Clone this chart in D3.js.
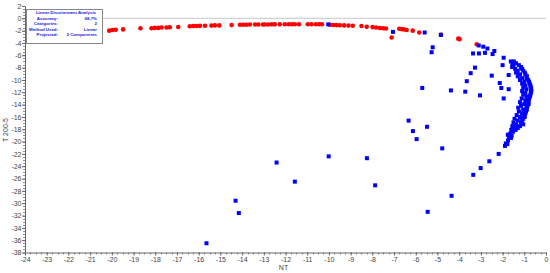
<!DOCTYPE html>
<html lang="en">
<head>
    <meta charset="UTF-8">
    <title>LDA scatter</title>
    <script src="https://d3js.org/d3.v7.min.js"></script>
    <style>
        body { margin: 0; background: #fff; }
        text { font-family: "Liberation Sans", Arial, sans-serif; }
    </style>
</head>
<body>
    <div id="chart"></div>
    <script>
        // category 1 (red circles), [NT, T 200-5]
        const redPoints = [
            [-20.12,-2.0],[-19.97,-1.9],[-19.82,-1.85],[-19.48,-1.8],[-18.68,-1.62],[-18.17,-1.6],
            [-18.02,-1.55],[-17.86,-1.55],[-17.71,-1.5],[-17.48,-1.5],[-17.33,-1.45],[-16.94,-1.4],
            [-16.41,-1.28],[-16.25,-1.25],[-16.10,-1.25],[-15.94,-1.22],[-15.71,-1.2],[-15.41,-1.18],
            [-15.25,-1.15],[-15.05,-1.15],[-14.48,-1.1],[-14.1,-1.05],[-13.95,-1.05],[-13.8,-1.05],
            [-13.64,-1.0],[-13.4,-1.0],[-13.25,-1.0],[-13.04,-1.0],[-12.95,-1.0],[-12.8,-1.0],
            [-12.63,-0.98],[-12.49,-0.98],[-12.26,-0.98],[-12.03,-0.97],[-11.85,-0.97],[-11.7,-0.97],
            [-11.57,-0.97],[-11.38,-0.97],[-10.97,-0.97],[-10.8,-0.97],[-10.6,-0.97],[-10.45,-0.97],
            [-10.32,-0.97],[-9.95,-1.05],[-9.8,-1.08],[-9.65,-1.1],[-9.5,-1.12],[-9.3,-1.15],
            [-9.1,-1.18],[-8.9,-1.2],[-8.5,-1.25],[-8.26,-1.36],[-7.99,-1.42],[-7.83,-1.5],
            [-7.65,-1.58],[-7.5,-1.62],[-7.37,-1.65],[-7.11,-3.1],[-6.76,-1.7],[-6.65,-1.75],
            [-6.55,-1.8],[-6.42,-1.9],[-6.14,-2.0],[-5.84,-2.3],[-4.84,-2.65],[-4.04,-3.3],
            [-3.98,-3.38],[-3.19,-4.2]
        ];

        // category 2 (blue squares)
        const bluePoints = [
            [-10.03,-0.98],[-7.05,-2.2],[-5.59,-2.3],[-4.84,-2.7],[-5.22,-4.7],[-5.27,-5.5],
            [-3.10,-4.4],[-2.89,-4.6],[-2.70,-4.9],[-3.36,-5.7],[-3.09,-5.7],[-2.81,-5.6],
            [-2.38,-5.3],[-2.46,-5.8],[-1.95,-6.4],[-2.0,-7.6],[-3.27,-8.0],[-3.47,-8.9],
            [-3.65,-10.2],[-2.50,-9.3],[-1.72,-9.2],[-2.13,-10.5],[-2.06,-11.3],[-1.72,-11.5],
            [-1.95,-13.0],[-3.04,-12.5],[-3.72,-11.9],[-4.38,-11.7],[-5.7,-11.3],
            [-12.41,-23.4],[-11.57,-26.5],[-10.01,-22.4],[-8.25,-22.7],[-7.87,-27.1],
            [-6.33,-16.6],[-6.13,-18.3],[-5.96,-19.6],[-5.48,-17.6],[-4.78,-21.1],[-4.35,-28.8],
            [-5.45,-31.4],[-3.35,-25.4],[-3.01,-24.3],[-2.61,-23.2],[-2.18,-22.0],[-1.89,-20.7],
            [-1.78,-20.4],[-1.76,-18.9],[-1.61,-19.4],[-14.30,-29.6],[-14.15,-31.6],[-15.64,-36.5],
            // dense crescent on the right
            [-1.62,-7.0],[-1.48,-7.0],[-1.55,-7.3],[-1.38,-7.3],[-1.5,-7.6],[-1.25,-7.6],
            [-1.56,-7.9],[-1.15,-7.9],[-1.42,-8.2],[-1.1,-8.2],[-1.3,-8.5],[-1.05,-8.5],
            [-1.38,-8.8],[-0.98,-8.8],[-1.2,-9.1],[-0.95,-9.1],[-1.3,-9.4],[-0.88,-9.4],
            [-1.1,-9.7],[-0.9,-9.7],[-1.2,-10.0],[-0.82,-10.0],[-1.0,-10.3],[-0.78,-10.3],
            [-1.1,-10.6],[-0.75,-10.6],[-0.95,-10.9],[-0.72,-10.9],[-1.05,-11.2],[-0.7,-11.2],
            [-0.9,-11.5],[-0.68,-11.5],[-1.1,-11.8],[-0.68,-11.8],[-0.95,-12.1],[-0.7,-12.1],
            [-1.05,-12.4],[-0.72,-12.4],[-0.9,-12.7],[-0.74,-12.7],[-1.12,-13.0],[-0.78,-13.0],
            [-0.95,-13.3],[-0.8,-13.3],[-1.2,-13.6],[-0.82,-13.6],[-1.0,-13.9],[-0.8,-13.9],
            [-1.15,-14.2],[-0.85,-14.2],[-1.28,-14.5],[-0.9,-14.5],[-1.05,-14.8],[-0.88,-14.8],
            [-1.25,-15.1],[-0.92,-15.1],[-1.1,-15.4],[-0.95,-15.4],[-1.35,-15.7],[-1.0,-15.7],
            [-1.2,-16.0],[-0.98,-16.0],[-1.45,-16.3],[-1.05,-16.3],[-1.3,-16.6],[-1.1,-16.6],
            [-1.5,-16.9],[-1.15,-16.9],[-1.38,-17.2],[-1.05,-17.2],[-1.55,-17.5],[-1.2,-17.5],
            [-1.45,-17.8],[-1.3,-17.8],[-1.6,-18.1],[-1.4,-18.1],[-1.52,-18.4],[-1.65,-18.7],
            [-1.58,-19.0],[-1.7,-19.3],[-1.75,-19.8],[-1.85,-20.3]
        ];

        const xTicks = d3.range(-24, 1, 1);
        const yTicks = d3.range(-38, 3, 2);
        const infoLabels = ["Accuracy:", "Categories:", "Method Used:", "Projected:"];
        const infoValues = ["98,7%", "2", "Linear", "2 Components"];

        const width = 550, height = 273;
        const svg = d3.select('#chart').append('svg')
            .attr('width', width)
            .attr('height', height);

        const x = d3.scaleLinear().domain([-24, 0]).range([25, 546]);
        const y = d3.scaleLinear().domain([-38, 2]).range([252.5, 6]);

        // zero line
        svg.append('line')
            .attr('x1', x(-24)).attr('x2', x(0))
            .attr('y1', y(0)).attr('y2', y(0))
            .attr('stroke', '#c8c8c8').attr('stroke-width', 1);

        // minor ticks
        const axisColor = '#666';
        svg.append('g')
            .selectAll('line')
            .data(d3.range(-24, 0.01, 0.25))
            .enter().append('line')
            .attr('x1', d => Math.round(x(d)) + 0.5).attr('x2', d => Math.round(x(d)) + 0.5)
            .attr('y1', y(-38)).attr('y2', y(-38) + 2)
            .attr('stroke', axisColor).attr('stroke-width', 0.7);
        svg.append('g')
            .selectAll('line')
            .data(d3.range(-38, 2.01, 0.5))
            .enter().append('line')
            .attr('y1', d => Math.round(y(d)) + 0.5).attr('y2', d => Math.round(y(d)) + 0.5)
            .attr('x1', x(-24) - 2).attr('x2', x(-24))
            .attr('stroke', axisColor).attr('stroke-width', 0.7);

        // axes
        const xAxis = svg.append('g')
            .attr('transform', `translate(0,${y(-38)})`)
            .call(d3.axisBottom(x).tickValues(xTicks).tickSize(3).tickSizeOuter(0).tickFormat(d => d));
        const yAxis = svg.append('g')
            .attr('transform', `translate(${x(-24)},0)`)
            .call(d3.axisLeft(y).tickValues(yTicks).tickSize(3).tickSizeOuter(0).tickFormat(d => d));
        [xAxis, yAxis].forEach(g => {
            g.select('.domain').attr('stroke', axisColor);
            g.selectAll('.tick line').attr('stroke', axisColor);
            g.selectAll('.tick text')
                .attr('fill', '#444')
                .style('font-size', '7px')
                .style('font-family', '"Liberation Sans", Arial, sans-serif');
        });
        xAxis.selectAll('.tick text').attr('dy', '0.55em');
        yAxis.selectAll('.tick text').attr('x', -3.5);

        // axis titles
        svg.append('text')
            .attr('x', (x(-24) + x(0)) / 2 - 2).attr('y', 270)
            .attr('text-anchor', 'middle')
            .attr('fill', '#444').style('font-size', '7px')
            .text('NT');
        svg.append('text')
            .attr('transform', 'translate(8,130) rotate(-90)')
            .attr('text-anchor', 'middle')
            .attr('fill', '#444').style('font-size', '7px')
            .text('T 200-5');

        // points
        svg.append('g')
            .selectAll('circle')
            .data(redPoints)
            .enter().append('circle')
            .attr('cx', d => x(d[0]))
            .attr('cy', d => y(d[1]))
            .attr('r', 2.3)
            .attr('fill', '#ff0000');

        svg.append('g')
            .selectAll('rect')
            .data(bluePoints)
            .enter().append('rect')
            .attr('x', d => x(d[0]) - 2)
            .attr('y', d => y(d[1]) - 2)
            .attr('width', 4)
            .attr('height', 4)
            .attr('fill', '#0000ff');

        // info box
        const box = svg.append('g');
        const boxFont = { size: '4.4px', color: '#1a1adb' };
        box.append('rect')
            .attr('x', 26.5).attr('y', 9.5)
            .attr('width', 76).attr('height', 34)
            .attr('fill', '#fff').attr('stroke', '#888').attr('stroke-width', 1);
        box.append('text')
            .attr('x', 66).attr('y', 14.3)
            .attr('text-anchor', 'middle')
            .attr('fill', boxFont.color).style('font-size', boxFont.size).style('font-weight', 'bold')
            .text('Linear Discriminant Analysis');
        infoLabels.forEach((lab, i) => {
            box.append('text')
                .attr('x', 58).attr('y', 19.6 + i * 5.6)
                .attr('text-anchor', 'end')
                .attr('fill', boxFont.color).style('font-size', boxFont.size).style('font-weight', 'bold')
                .text(lab);
            box.append('text')
                .attr('x', 97).attr('y', 19.6 + i * 5.6)
                .attr('text-anchor', 'end')
                .attr('fill', boxFont.color).style('font-size', boxFont.size).style('font-weight', 'bold')
                .text(infoValues[i]);
        });
    </script>
</body>
</html>
